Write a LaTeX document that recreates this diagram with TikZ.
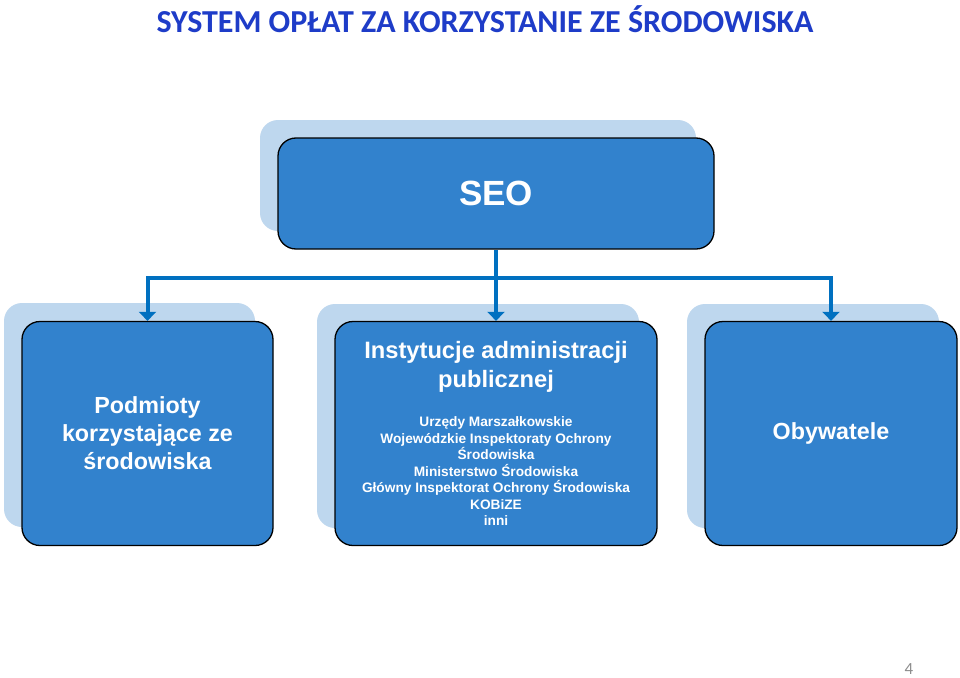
\documentclass[tikz,border=0pt]{standalone}
\usepackage{fontspec}
\setmainfont{Liberation Sans}
\newfontfamily\calib{Carlito}
\usetikzlibrary{arrows.meta}
\definecolor{boxblue}{RGB}{50,130,205}
\definecolor{shadowblue}{RGB}{190,215,238}
\definecolor{connblue}{RGB}{0,112,192}
\definecolor{titleblue}{RGB}{30,60,200}
\definecolor{pagegray}{RGB}{140,140,140}
\begin{document}
\begin{tikzpicture}[x=1pt,y=-1pt,
  mainbox/.style={draw=black, line width=1.3pt, fill=boxblue, rounded corners=18pt,
    text=white, align=center, inner sep=0pt},
  shadowbox/.style={fill=shadowblue, rounded corners=18pt},
  conn/.style={draw=connblue, line width=4pt},
  connarrow/.style={conn, -{Triangle[width=17pt,length=9pt]}},
  boxtext/.style={text=white, align=center, inner sep=0pt}
]
\useasboundingbox (0,0) rectangle (960,677);
\fill[white] (0,0) rectangle (960,677);

% title
\node[font=\calib\bfseries\fontsize{32}{36}\selectfont, text=titleblue, anchor=base, inner sep=0pt]
  (title) at (485,33) {SYSTEM OPŁAT ZA KORZYSTANIE ZE ŚRODOWISKA};

% shadows
\fill[shadowbox] (260,120) rectangle (696,231);
\fill[shadowbox] (4,303) rectangle (255,527);
\fill[shadowbox] (317,304) rectangle (639,528);
\fill[shadowbox] (687,304) rectangle (939,528);

% boxes
\node[mainbox, minimum width=436pt, minimum height=111pt, font=\bfseries\fontsize{35}{40}\selectfont]
  (seo) at (496,193.5) {SEO};
\node[mainbox, minimum width=251pt, minimum height=224pt, font=\bfseries\fontsize{23.3}{28}\selectfont]
  (podm) at (147.5,433.5) {Podmioty\\korzystające ze\\środowiska};
\node[mainbox, minimum width=322pt, minimum height=224pt] (inst) at (496,433.5) {};
\node[boxtext, font=\bfseries\fontsize{23.7}{29}\selectfont] (instT) at (496,367)
  {Instytucje administracji\\publicznej};
\node[boxtext, font=\bfseries\fontsize{13.7}{16.5}\selectfont] (instL) at (496,471.5)
  {Urzędy Marszałkowskie\\Wojewódzkie Inspektoraty Ochrony\\Środowiska\\Ministerstwo Środowiska\\Główny Inspektorat Ochrony Środowiska\\KOBiZE\\inni};
\node[mainbox, minimum width=252pt, minimum height=224pt, font=\bfseries\fontsize{23.3}{28}\selectfont]
  (obyw) at (831,433.5) {Obywatele};

% connectors
\coordinate (bus) at (496,278);
\draw[conn] (seo.south) -- (bus);
\draw[connarrow] (bus) -- (inst.north);
\draw[connarrow] (bus) -| (podm.north);
\draw[connarrow] (bus) -| (obyw.north);

% page number
\node[font=\calib\fontsize{17}{20}\selectfont, text=pagegray, anchor=base, inner sep=0pt]
  (page) at (909,674) {4};
\end{tikzpicture}
\end{document}
